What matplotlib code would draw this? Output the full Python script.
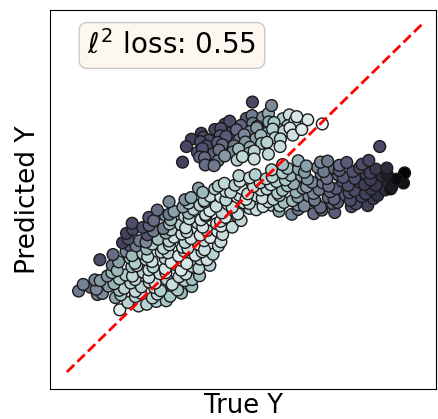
import matplotlib
matplotlib.use("Agg")
import matplotlib.pyplot as plt

# upper (off-diagonal) cluster: true value, predicted value, colour feature
upper_true = [
    5.06, 5.22, 5.52, 5.68, 6.09, 6.27,
    4.45, 4.59, 4.91, 5.24, 5.37, 5.69, 5.84, 6.23, 6.43, 6.79,
    3.79, 4.17, 4.34, 4.64, 4.78, 5.16, 5.35, 5.65, 5.8, 6.12, 6.29,
    3.51, 3.85, 4.0, 4.32, 4.49, 4.86, 5.0, 5.32, 5.47, 5.87, 6.02, 6.37,
    3.37, 3.77, 3.93, 4.25, 4.38, 4.71, 5.03, 5.16, 5.49, 5.64, 6.01,
    3.68, 3.82, 4.13, 4.29, 4.67, 4.84, 5.14, 5.28, 5.68,
    3.74, 3.88, 4.26, 4.45, 4.8, 4.95, 5.28,
    3.9, 4.15, 3.26, 5.23, 5.77, 7.2, 6.62, 6.48]
upper_pred = [
    7.3, 7.38, 7.33, 7.44, 7.29, 7.4,
    7.13, 7.22, 7.1, 7.16, 7.07, 7.2, 7.18, 7.09, 7.23, 7.26,
    6.87, 6.98, 7.01, 6.89, 6.97, 6.92, 7.03, 6.88, 6.99, 6.93, 7.02,
    6.7, 6.76, 6.67, 6.8, 6.78, 6.69, 6.83, 6.71, 6.81, 6.74, 6.71, 6.82,
    6.49, 6.63, 6.51, 6.61, 6.54, 6.51, 6.62, 6.47, 6.58, 6.61, 6.49,
    6.32, 6.43, 6.28, 6.39, 6.33, 6.42, 6.3, 6.36, 6.27,
    6.19, 6.17, 6.08, 6.22, 6.1, 6.2, 6.13,
    5.96, 5.94, 6.04, 7.77, 7.67, 7.14, 6.98, 7.35]
upper_feat = [
    0.4, 0.5, 0.56, 0.66, 0.78, 0.85,
    0.33, 0.35, 0.42, 0.5, 0.6, 0.65, 0.75, 0.8, 0.86, 0.9,
    0.3, 0.32, 0.35, 0.38, 0.45, 0.55, 0.6, 0.7, 0.78, 0.82, 0.88,
    0.3, 0.33, 0.35, 0.38, 0.4, 0.48, 0.55, 0.62, 0.7, 0.8, 0.82, 0.86,
    0.32, 0.35, 0.34, 0.4, 0.45, 0.5, 0.58, 0.65, 0.72, 0.8, 0.85,
    0.38, 0.36, 0.42, 0.48, 0.55, 0.7, 0.75, 0.8, 0.82,
    0.42, 0.45, 0.5, 0.6, 0.78, 0.82, 0.85,
    0.45, 0.5, 0.3, 0.33, 0.55, 0.97, 0.9, 0.88]

# main band
lower_true = [
    1.49, 2.02, 2.25, 1.72, 2.52, 2.8,
    0.86, 1.0, 1.37, 1.52, 1.93, 2.07, 2.41, 2.55, 2.91, 3.23,
    0.33, 0.67, 0.83, 1.17, 1.48, 1.62, 1.93, 2.1, 2.47, 2.64, 2.96, 3.12, 3.52,
    0.46, 0.79, 0.94, 1.33, 1.48, 1.8, 1.92, 2.32, 2.49, 2.81, 2.97, 3.32, 3.53,
    1.14, 1.27, 1.66, 1.85, 2.15, 2.31, 2.62, 2.79, 3.16, 3.35, 3.74,
    1.28, 1.42, 1.83, 1.97, 2.31, 2.43, 2.77, 3.08, 3.22, 3.53, 3.72, 4.03,
    0.93, 1.46, 1.78, 1.92, 2.23, 2.4, 2.77, 2.94, 3.24, 3.38, 3.76, 3.95,
    1.3, 1.67, 1.84, 2.14, 2.28, 2.66, 2.85, 3.15, 3.31, 3.62, 3.81, 4.12,
    1.76, 1.95, 2.25, 2.41, 2.72, 2.89, 3.26, 3.41, 3.72, 3.88, 4.27,
    1.57, 1.73, 2.05, 2.23, 2.57, 2.88, 3.02, 3.33, 3.5, 3.87, 4.04, 4.34,
    1.68, 1.86, 2.27, 2.44, 2.79, 2.94, 3.24, 3.38, 3.76, 3.95, 4.25, 4.39,
    1.84, 2.14, 2.32, 2.72, 2.89, 3.21, 3.35, 3.68, 3.83, 4.22, 4.35, 4.66,
    2.31, 2.45, 2.78, 2.93, 3.32, 3.45, 3.78, 3.92, 4.33, 4.47, 4.81, 4.91,
    2.55, 2.88, 3.02, 3.43, 3.57, 3.91, 4.03, 4.37, 4.68, 4.82, 5.15, 5.34, 5.77, 5.98, 6.34, 6.52, 6.96, 7.19, 7.55,
    2.88, 3.27, 3.43, 3.75, 3.89, 4.21, 4.54, 4.66, 4.99, 5.14, 5.53, 5.68, 6.0, 6.12, 6.52, 6.69, 7.01, 7.15, 7.48, 7.63, 8.02, 8.15, 8.48,
    3.33, 3.5, 3.87, 4.04, 4.34, 4.48, 4.86, 5.05, 5.35, 5.51, 5.82, 5.99, 6.36, 6.51, 6.82, 6.98, 7.37, 7.53, 7.85, 7.99, 8.31, 8.64, 8.76,
    3.71, 3.83, 4.17, 4.48, 4.62, 4.93, 5.1, 5.47, 5.64, 5.94, 6.08, 6.46, 6.65, 6.95, 7.11, 7.42, 7.59, 7.96, 8.11, 8.42, 8.58, 8.97, 9.13,
    4.27, 4.44, 4.74, 4.88, 5.26, 5.45, 5.75, 5.91, 6.22, 6.39, 6.76, 6.91, 7.22, 7.38, 7.77, 7.93, 8.25, 8.39, 8.71, 9.04, 9.16, 9.49,
    4.85, 5.15, 5.31, 5.62, 5.79, 6.16, 6.31, 6.62, 6.78, 7.17, 7.33, 7.65, 7.79, 8.11, 8.44, 8.56, 8.89, 9.04, 9.43,
    5.77, 6.08, 6.22, 6.53, 6.7, 7.07, 7.24, 7.54, 7.68, 8.06, 8.25, 8.55, 8.71, 9.02,
    6.08, 6.52, 6.75, 7.15, 7.35, 7.68, 7.89, 8.32, 8.51,
    8.82, 9.52, 9.3]
lower_pred = [
    1.79, 1.9, 1.95, 2.0, 2.03, 2.05,
    2.23, 2.26, 2.14, 2.22, 2.17, 2.28, 2.13, 2.24, 2.18, 2.27,
    2.33, 2.44, 2.38, 2.47, 2.35, 2.41, 2.32, 2.45, 2.43, 2.34, 2.48, 2.36, 2.46,
    2.52, 2.65, 2.63, 2.54, 2.68, 2.56, 2.66, 2.59, 2.56, 2.67, 2.52, 2.63, 2.66,
    2.76, 2.86, 2.79, 2.76, 2.87, 2.72, 2.83, 2.86, 2.74, 2.82, 2.77,
    3.07, 2.92, 3.03, 3.06, 2.94, 3.02, 2.97, 3.08, 2.93, 3.04, 2.98, 3.07,
    3.23, 3.17, 3.28, 3.13, 3.24, 3.18, 3.27, 3.15, 3.21, 3.12, 3.25, 3.23,
    3.38, 3.47, 3.35, 3.41, 3.32, 3.45, 3.43, 3.34, 3.48, 3.36, 3.46, 3.39,
    3.65, 3.63, 3.54, 3.68, 3.56, 3.66, 3.59, 3.56, 3.67, 3.52, 3.63,
    3.72, 3.83, 3.78, 3.74, 3.82, 3.77, 3.88, 3.73, 3.84, 3.78, 3.87, 3.75,
    3.99, 4.1, 3.95, 4.06, 4.0, 4.09, 3.97, 4.03, 3.94, 4.07, 4.05, 3.96,
    4.28, 4.16, 4.22, 4.13, 4.26, 4.24, 4.15, 4.29, 4.17, 4.27, 4.2, 4.17,
    4.45, 4.36, 4.5, 4.38, 4.48, 4.41, 4.38, 4.49, 4.34, 4.45, 4.48, 4.36,
    4.66, 4.54, 4.62, 4.57, 4.68, 4.53, 4.64, 4.58, 4.67, 4.55, 4.71, 4.67, 4.8, 4.63, 4.54, 4.68, 4.56, 4.66, 4.59,
    4.9, 4.75, 4.86, 4.8, 4.89, 4.77, 4.83, 4.74, 4.87, 4.85, 4.76, 4.9, 4.78, 4.88, 4.81, 4.78, 4.89, 4.74, 4.85, 4.88, 4.76, 4.84, 4.79,
    4.96, 5.02, 4.93, 5.06, 5.04, 4.95, 5.09, 4.97, 5.07, 5.0, 4.97, 5.08, 4.93, 5.04, 5.07, 4.95, 5.03, 4.98, 5.09, 4.94, 5.05, 4.99, 5.08,
    5.29, 5.17, 5.27, 5.2, 5.17, 5.28, 5.13, 5.24, 5.27, 5.15, 5.23, 5.18, 5.29, 5.14, 5.25, 5.19, 5.28, 5.16, 5.22, 5.13, 5.26, 5.24, 5.27,
    5.35, 5.43, 5.38, 5.49, 5.34, 5.45, 5.39, 5.48, 5.36, 5.42, 5.33, 5.46, 5.44, 5.35, 5.49, 5.37, 5.47, 5.4, 5.37, 5.48, 5.33, 5.44,
    5.65, 5.59, 5.68, 5.56, 5.62, 5.53, 5.66, 5.64, 5.55, 5.69, 5.57, 5.67, 5.6, 5.57, 5.68, 5.53, 5.64, 5.67, 5.55,
    5.82, 5.73, 5.86, 5.84, 5.75, 5.89, 5.77, 5.87, 5.8, 5.77, 5.88, 5.73, 5.84, 5.87,
    5.97, 6.08, 5.93, 6.04, 6.07, 5.95, 6.03, 5.98, 6.09,
    6.49, 5.73, 5.55]
lower_feat = [
    0.92, 0.85, 0.8, 0.8, 0.78, 0.75,
    0.5, 0.55, 0.65, 0.75, 0.8, 0.85, 0.8, 0.82, 0.75, 0.7,
    0.5, 0.48, 0.55, 0.6, 0.72, 0.8, 0.84, 0.8, 0.85, 0.78, 0.82, 0.75, 0.7,
    0.52, 0.55, 0.6, 0.68, 0.75, 0.8, 0.85, 0.82, 0.88, 0.8, 0.85, 0.78, 0.72,
    0.58, 0.7, 0.78, 0.82, 0.8, 0.86, 0.84, 0.9, 0.82, 0.85, 0.72,
    0.5, 0.7, 0.75, 0.8, 0.85, 0.8, 0.88, 0.85, 0.9, 0.82, 0.8, 0.78,
    0.35, 0.62, 0.72, 0.78, 0.82, 0.86, 0.8, 0.9, 0.84, 0.88, 0.82, 0.86,
    0.45, 0.55, 0.7, 0.75, 0.82, 0.85, 0.8, 0.9, 0.85, 0.88, 0.82, 0.8,
    0.4, 0.5, 0.7, 0.78, 0.82, 0.85, 0.88, 0.84, 0.9, 0.85, 0.82,
    0.3, 0.35, 0.5, 0.55, 0.72, 0.8, 0.86, 0.82, 0.88, 0.85, 0.9, 0.85,
    0.3, 0.33, 0.38, 0.5, 0.65, 0.78, 0.85, 0.82, 0.88, 0.85, 0.9, 0.84,
    0.35, 0.35, 0.42, 0.5, 0.7, 0.8, 0.85, 0.82, 0.88, 0.86, 0.9, 0.84,
    0.38, 0.45, 0.55, 0.7, 0.8, 0.84, 0.88, 0.82, 0.86, 0.9, 0.85, 0.82,
    0.45, 0.5, 0.62, 0.72, 0.8, 0.85, 0.88, 0.84, 0.9, 0.86, 0.82, 0.85, 0.8, 0.65, 0.55, 0.48, 0.45, 0.42, 0.4,
    0.55, 0.62, 0.75, 0.8, 0.86, 0.84, 0.9, 0.85, 0.88, 0.84, 0.86, 0.82, 0.78, 0.72, 0.62, 0.55, 0.5, 0.45, 0.42, 0.4, 0.36, 0.33, 0.3,
    0.58, 0.65, 0.78, 0.84, 0.88, 0.82, 0.86, 0.9, 0.84, 0.86, 0.8, 0.75, 0.7, 0.62, 0.55, 0.5, 0.45, 0.42, 0.38, 0.35, 0.32, 0.28, 0.22,
    0.62, 0.7, 0.8, 0.85, 0.82, 0.88, 0.84, 0.86, 0.82, 0.78, 0.72, 0.68, 0.6, 0.55, 0.5, 0.45, 0.4, 0.36, 0.33, 0.3, 0.25, 0.2, 0.03,
    0.78, 0.82, 0.8, 0.86, 0.84, 0.8, 0.84, 0.78, 0.74, 0.66, 0.6, 0.55, 0.5, 0.45, 0.4, 0.36, 0.32, 0.28, 0.25, 0.18, 0.12, 0.06,
    0.8, 0.84, 0.78, 0.82, 0.8, 0.76, 0.7, 0.64, 0.58, 0.52, 0.48, 0.42, 0.38, 0.35, 0.3, 0.27, 0.2, 0.14, 0.08,
    0.8, 0.76, 0.72, 0.66, 0.6, 0.55, 0.5, 0.45, 0.4, 0.36, 0.33, 0.3, 0.25, 0.2,
    0.72, 0.68, 0.62, 0.55, 0.5, 0.45, 0.4, 0.35, 0.32,
    0.33, 0.02, 0.05]

diag = [0.0, 10.0]
loss_text = r"$\ell^2$ loss: 0.55"

true_y = lower_true + upper_true
pred_y = lower_pred + upper_pred
feat = lower_feat + upper_feat

fig = plt.figure(figsize=(4.39, 4.19), dpi=100)
ax = fig.add_axes([0.1128, 0.0716, 0.8815, 0.9045])

ax.scatter(true_y, pred_y, c=feat, cmap="bone", vmin=0, vmax=1,
           s=72, edgecolors="#1a1a1a", linewidths=1.0)
ax.plot(diag, diag, "r--", lw=2)

ax.set_xlim(-0.49, 10.42)
ax.set_ylim(-0.49, 10.42)
ax.set_xticks([])
ax.set_yticks([])
ax.set_xlabel("True Y", fontsize=18.5, labelpad=3)
ax.set_ylabel("Predicted Y", fontsize=19, labelpad=6)

ax.text(0.098, 0.945, loss_text, transform=ax.transAxes, fontsize=20,
        va="top", ha="left",
        bbox=dict(boxstyle="round", facecolor="wheat", alpha=0.2))

fig.savefig("out.png", dpi=100)
